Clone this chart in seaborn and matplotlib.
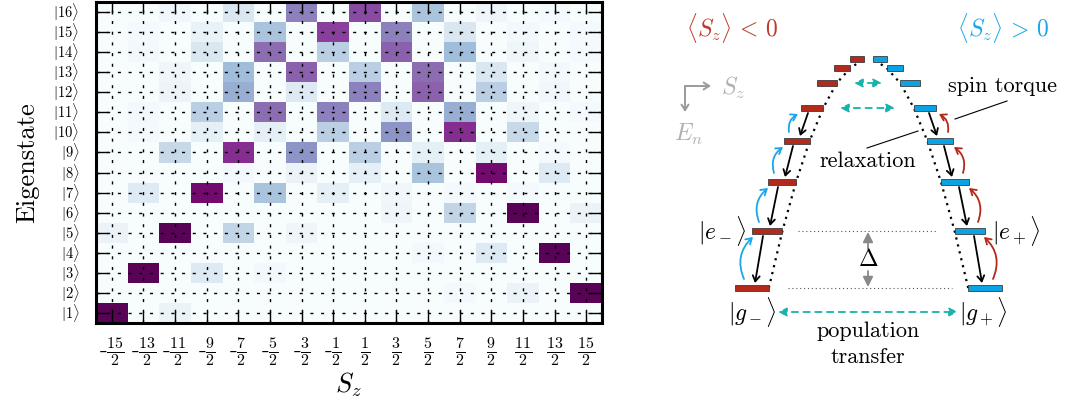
import numpy as np
import pandas as pd
import matplotlib
matplotlib.use("Agg")
import matplotlib.pyplot as plt
import seaborn as sns
from matplotlib.patches import FancyArrowPatch

# ---------------- data ----------------
sz_tick_labels = ["-$\\frac{15}{2}$", "-$\\frac{13}{2}$", "-$\\frac{11}{2}$", "-$\\frac{9}{2}$",
                  "-$\\frac{7}{2}$", "-$\\frac{5}{2}$", "-$\\frac{3}{2}$", "-$\\frac{1}{2}$",
                  "$\\frac{1}{2}$", "$\\frac{3}{2}$", "$\\frac{5}{2}$", "$\\frac{7}{2}$",
                  "$\\frac{9}{2}$", "$\\frac{11}{2}$", "$\\frac{13}{2}$", "$\\frac{15}{2}$"]
eigenstates = [1, 2, 3, 4, 5, 6, 7, 8, 9, 10, 11, 12, 13, 14, 15, 16]

# weight of each eigenstate on the Sz basis (-15/2 ... 15/2)
state_01 = [.97, 0, .07, 0, 0, 0, 0, 0, 0, 0, 0, 0, 0, 0, 0, 0]
state_02 = [0, 0, 0, 0, 0, 0, 0, 0, 0, 0, 0, .02, 0, .07, 0, .97]
state_03 = [0, .97, 0, .14, 0, .03, 0, 0, 0, 0, 0, 0, 0, 0, 0, 0]
state_04 = [0, 0, 0, 0, 0, 0, 0, 0, 0, 0, .03, 0, .14, 0, .97, 0]
state_05 = [.07, 0, .97, 0, .24, 0, .05, 0, 0, 0, 0, 0, 0, 0, 0, 0]
state_06 = [0, 0, 0, 0, 0, 0, 0, 0, 0, .05, 0, .24, 0, .97, 0, .07]
state_07 = [0, .13, 0, .91, 0, .33, 0, .10, 0, .04, 0, .02, 0, .02, 0, 0]
state_08 = [0, 0, 0, 0, .03, 0, .07, 0, .10, 0, .33, 0, .91, 0, .14, 0]
state_09 = [0, 0, .22, 0, .80, 0, .50, 0, .27, 0, .10, 0, .10, 0, .02, 0]
state_10 = [0, .02, 0, .10, 0, .10, 0, .27, 0, .50, 0, .80, 0, .22, 0, 0]
state_11 = [0, .03, 0, .27, 0, .62, 0, .56, 0, .14, 0, .42, 0, .05, 0, .02]
state_12 = [0, 0, .06, 0, .42, 0, .14, 0, .56, 0, .66, 0, .27, 0, .04, 0]
state_13 = [0, 0, .05, 0, .37, 0, .66, 0, .27, 0, .62, 0, .15, 0, .03, 0]
state_14 = [0, .03, 0, .15, 0, .62, 0, .27, 0, .66, 0, .37, 0, .05, 0, .02]
state_15 = [0, .02, 0, .08, 0, .33, 0, .75, 0, .56, 0, .15, 0, .03, 0, .02]
state_16 = [0, 0, .04, 0, .15, 0, .56, 0, .72, 0, .33, 0, .05, 0, .02, 0]

# schematic level diagram: |Sz| of each level and its height above the ground doublet
level_abs_sz = [7.5, 6.5, 5.5, 4.5, 3.5, 2.5, 1.5, 0.5]
level_energy = [0, 57, 106, 147, 180, 205, 220, 229]

# ---------------- style ----------------
plt.rcParams["font.family"] = ["cmr10", "DejaVu Serif"]
plt.rcParams["mathtext.fontset"] = "cm"
plt.rcParams["axes.unicode_minus"] = False
plt.rcParams["axes.formatter.use_mathtext"] = True

W, H = 1075, 403
fig = plt.figure(figsize=(W / 100, H / 100), dpi=100)

# ---------------- heatmap ----------------
rows = [state_01, state_02, state_03, state_04, state_05, state_06, state_07, state_08,
        state_09, state_10, state_11, state_12, state_13, state_14, state_15, state_16]
df = pd.DataFrame(rows, index=eigenstates, columns=sz_tick_labels).iloc[::-1]
ket_labels = [r"$|%d\rangle$" % n for n in df.index]

ax = fig.add_axes([96 / W, (H - 323) / H, (602 - 96) / W, (323 - 2) / H])
sns.heatmap(df, ax=ax, cmap="BuPu", vmin=0, vmax=1, cbar=False,
            xticklabels=sz_tick_labels, yticklabels=ket_labels)
for s in ax.spines.values():
    s.set_visible(True)
    s.set_linewidth(2.2)
    s.set_color("black")
ax.set_axisbelow(False)
ax.grid(True, color="black", linestyle=(0, (2.2, 5.5)), linewidth=1.0)
ax.tick_params(axis="both", direction="in", length=8.5, width=1.0, color="black",
               top=True, right=True, labeltop=False, labelright=False)
ax.tick_params(axis="x", pad=9, labelsize=16.5, rotation=0)
ax.tick_params(axis="y", pad=12, labelsize=10.5, rotation=0)
ax.set_ylabel("Eigenstate", fontsize=19)
ax.set_xlabel(r"$S_z$", fontsize=19)
ax.yaxis.set_label_coords((39 - 96) / 506, 0.5)
ax.xaxis.set_label_coords((348 - 96) / 506, (323 - 371) / 321)

# ---------------- schematic ----------------
RED = "#b3291b"
BLUE = "#0ba3e3"
RED_T = "#c0392b"
BLUE_T = "#1aa6ea"
TEAL = "#19b2ad"
GRAY = "#9a9a9a"

ax2 = fig.add_axes([640 / W, 0, (W - 640) / W, 1])
ax2.set_xlim(640, W)
ax2.set_ylim(H, 0)
ax2.axis("off")

abs_sz = np.array(level_abs_sz)
ys = 288 - np.array(level_energy)
offs = 11.5 + 15 * (abs_sz - 0.5)
widths = 14 + 2.8 * (abs_sz - 0.5)
xl = 868.5 - offs
xr = 868.5 + offs
ax2.bar(xl, 5.5, width=widths, bottom=ys - 2.75, color=RED, edgecolor="#3c3c3c", linewidth=0.6, zorder=4)
ax2.bar(xr, 5.5, width=widths, bottom=ys - 2.75, color=BLUE, edgecolor="#3c3c3c", linewidth=0.6, zorder=4)

# dotted envelopes through the inner ends of the levels
ax2.plot(xl + widths / 2, ys, color="black", linestyle=(0, (1, 2.2)), linewidth=1.6, zorder=3)
ax2.plot(xr - widths / 2, ys, color="black", linestyle=(0, (1, 2.2)), linewidth=1.6, zorder=3)

# thin dotted reference lines for e and g doublets
ax2.plot([798, 938], [ys[1], ys[1]], color="#555555", linestyle=(0, (1, 2.5)), linewidth=0.8)
ax2.plot([788, 952], [ys[0], ys[0]], color="#555555", linestyle=(0, (1, 2.5)), linewidth=0.8)

# relaxation (black) and spin torque (curved) arrows
for k in range(4):
    # left side
    ax2.add_patch(FancyArrowPatch((xl[k + 1] - 4, ys[k + 1] + 5), (xl[k] + 3, ys[k] - 5),
                                  arrowstyle="->,head_length=4,head_width=2.5", color="black",
                                  lw=1.3, mutation_scale=1, shrinkA=0, shrinkB=0))
    ax2.add_patch(FancyArrowPatch((xl[k] - 8, ys[k] - 9), (xl[k + 1] - 14, ys[k + 1] + 6),
                                  connectionstyle="arc3,rad=-0.35",
                                  arrowstyle="->,head_length=4,head_width=2.5", color=BLUE_T,
                                  lw=1.3, mutation_scale=1, shrinkA=0, shrinkB=0))
    # right side
    ax2.add_patch(FancyArrowPatch((xr[k + 1] + 4, ys[k + 1] + 5), (xr[k] - 3, ys[k] - 5),
                                  arrowstyle="->,head_length=4,head_width=2.5", color="black",
                                  lw=1.3, mutation_scale=1, shrinkA=0, shrinkB=0))
    ax2.add_patch(FancyArrowPatch((xr[k] + 8, ys[k] - 9), (xr[k + 1] + 14, ys[k + 1] + 6),
                                  connectionstyle="arc3,rad=0.35",
                                  arrowstyle="->,head_length=4,head_width=2.5", color=RED,
                                  lw=1.3, mutation_scale=1, shrinkA=0, shrinkB=0))

# population transfer arrows (teal dashed)
for (x1, x2, yy) in [(778, 958, 312), (840, 895, 108), (854, 882, 83)]:
    ax2.add_patch(FancyArrowPatch((x1, yy), (x2, yy), arrowstyle="<|-|>,head_length=5,head_width=2.5",
                                  mutation_scale=1, color=TEAL, lw=1.3, linestyle=(0, (3.5, 3)),
                                  shrinkA=0, shrinkB=0))

# Delta gap arrows
ax2.add_patch(FancyArrowPatch((868, 249), (868, ys[1] + 1), arrowstyle="-|>,head_length=6,head_width=3",
                              mutation_scale=1, color="#888888", lw=1.3, shrinkA=0, shrinkB=0))
ax2.add_patch(FancyArrowPatch((868, 271), (868, ys[0] - 1), arrowstyle="-|>,head_length=6,head_width=3",
                              mutation_scale=1, color="#888888", lw=1.3, shrinkA=0, shrinkB=0))
ax2.text(868, 260, r"$\Delta$", fontsize=17, ha="center", va="center")

# Sz / En orientation glyph
ax2.add_patch(FancyArrowPatch((685, 86), (711, 86), arrowstyle="->,head_length=4,head_width=2.5",
                              mutation_scale=1, color=GRAY, lw=1.4, shrinkA=0, shrinkB=0))
ax2.add_patch(FancyArrowPatch((685, 86), (685, 112), arrowstyle="->,head_length=4,head_width=2.5",
                              mutation_scale=1, color=GRAY, lw=1.4, shrinkA=0, shrinkB=0))
ax2.text(733, 88, r"$S_z$", fontsize=17, color="#b0b0b0", ha="center", va="center")
ax2.text(688, 134, r"$E_n$", fontsize=17, color="#b0b0b0", ha="center", va="center")

# headings
ax2.text(732, 28, r"$\langle S_z\rangle \,<\, 0$", fontsize=17, color=RED_T, ha="center", va="center")
ax2.text(1003, 28, r"$\langle S_z\rangle \,>\, 0$", fontsize=17, color=BLUE_T, ha="center", va="center")

# labels and leader lines
ax2.text(1003, 86, "spin torque", fontsize=16, ha="center", va="center")
ax2.plot([955, 1007], [119, 101], color="black", lw=0.8)
ax2.text(868, 161, "relaxation", fontsize=16, ha="center", va="center")
ax2.plot([867, 918], [148, 131], color="black", lw=0.8)

ax2.text(722, ys[1], r"$|e_-\rangle$", fontsize=17, ha="center", va="center")
ax2.text(1016, ys[1], r"$|e_+\rangle$", fontsize=17, ha="center", va="center")
ax2.text(752, 312, r"$|g_-\rangle$", fontsize=17, ha="center", va="center")
ax2.text(983, 312, r"$|g_+\rangle$", fontsize=17, ha="center", va="center")
ax2.text(868, 331, "population", fontsize=16, ha="center", va="center")
ax2.text(868, 357, "transfer", fontsize=16, ha="center", va="center")

fig.savefig("out.png", dpi=100)
